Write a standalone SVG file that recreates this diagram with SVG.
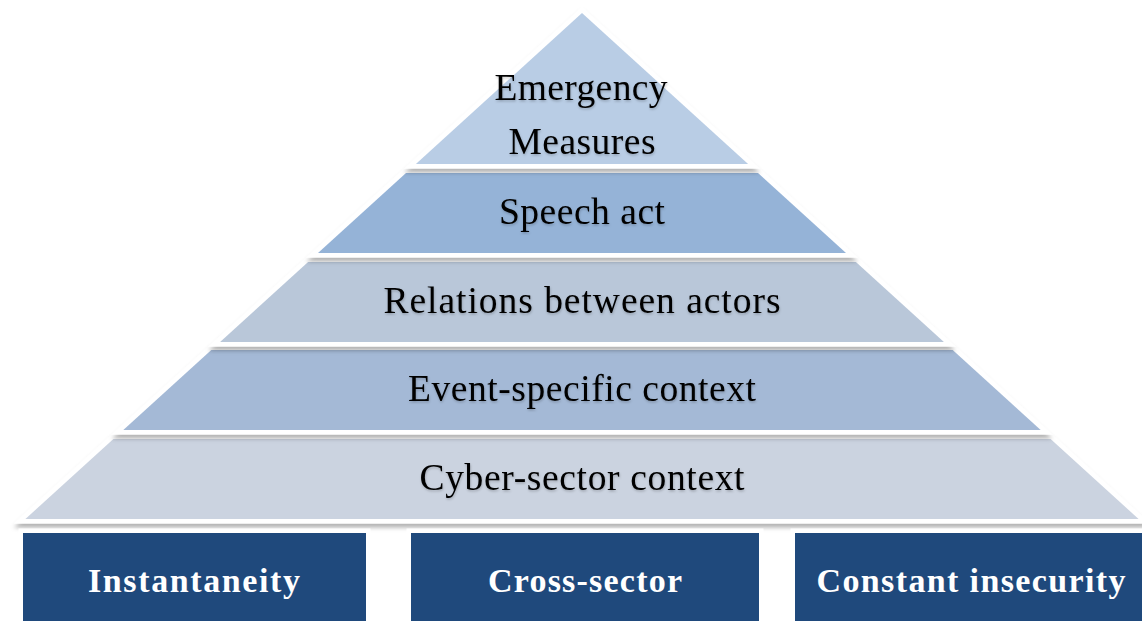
<svg xmlns="http://www.w3.org/2000/svg" width="1142" height="621" viewBox="0 0 1142 621">
  <defs>
    <filter id="shadow" x="-10%" y="-10%" width="120%" height="130%">
      <feDropShadow dx="0" dy="4" stdDeviation="2" flood-color="#000" flood-opacity="0.3"/>
    </filter>
    <filter id="textShadow" x="-5%" y="-20%" width="110%" height="150%">
      <feDropShadow dx="0.5" dy="1.5" stdDeviation="1.2" flood-color="#000" flood-opacity="0.22"/>
    </filter>
  </defs>
  <style>
    .tier { stroke: #ffffff; stroke-width: 9; stroke-linejoin: miter; paint-order: stroke fill; filter: url(#shadow); }
    .label { font-family: "Liberation Serif", "DejaVu Serif", serif; font-size: 37.5px; fill: #000000; text-anchor: middle; filter: url(#textShadow); }
    .pillar { fill: #1F497C; stroke: #ffffff; stroke-width: 9; paint-order: stroke fill; }
    .pillar-label { font-family: "Liberation Serif", "DejaVu Serif", serif; font-size: 34px; font-weight: bold; fill: #ffffff; text-anchor: middle; }
  </style>

  <rect width="1142" height="621" fill="#ffffff"/>

  <!-- pyramid tiers, drawn bottom-up so each shadow falls on the tier below -->
  <g id="tier-cyber-sector">
    <polygon class="tier" fill="#CBD3E0" points="113.4,439 1050.6,439 1138.6,519 25.4,519"/>
    <text class="label" x="582" y="490" textLength="325" lengthAdjust="spacing">Cyber-sector context</text>
  </g>
  <g id="tier-event-specific">
    <polygon class="tier" fill="#A4B9D6" points="211.3,350 952.7,350 1040.7,430 123.3,430"/>
    <text class="label" x="582" y="401" textLength="348" lengthAdjust="spacing">Event-specific context</text>
  </g>
  <g id="tier-relations">
    <polygon class="tier" fill="#B9C7D9" points="308.1,262 855.9,262 943.9,342 220.1,342"/>
    <text class="label" x="582" y="313" textLength="397" lengthAdjust="spacing">Relations between actors</text>
  </g>
  <g id="tier-speech-act">
    <polygon class="tier" fill="#95B3D7" points="406,173 758,173 846,253 318,253"/>
    <text class="label" x="582" y="224" textLength="166" lengthAdjust="spacing">Speech act</text>
  </g>
  <g id="tier-emergency">
    <polygon class="tier" fill="#B9CDE5" points="582,13 748.1,164 415.9,164"/>
    <text class="label" x="581" y="100" textLength="173" lengthAdjust="spacing">Emergency</text>
    <text class="label" x="582" y="154" textLength="147" lengthAdjust="spacing">Measures</text>
  </g>

  <!-- supporting pillars -->
  <g id="pillar-instantaneity">
    <rect class="pillar" x="23" y="533" width="343" height="100"/>
    <text class="pillar-label" x="194" y="592" textLength="212" lengthAdjust="spacing">Instantaneity</text>
  </g>
  <g id="pillar-cross-sector">
    <rect class="pillar" x="411" y="533" width="348" height="100"/>
    <text class="pillar-label" x="585" y="592" textLength="194" lengthAdjust="spacing">Cross-sector</text>
  </g>
  <g id="pillar-constant-insecurity">
    <rect class="pillar" x="795" y="533" width="360" height="100"/>
    <text class="pillar-label" x="971" y="592" textLength="309" lengthAdjust="spacing">Constant insecurity</text>
  </g>

  <g id="connectors"/>
</svg>
